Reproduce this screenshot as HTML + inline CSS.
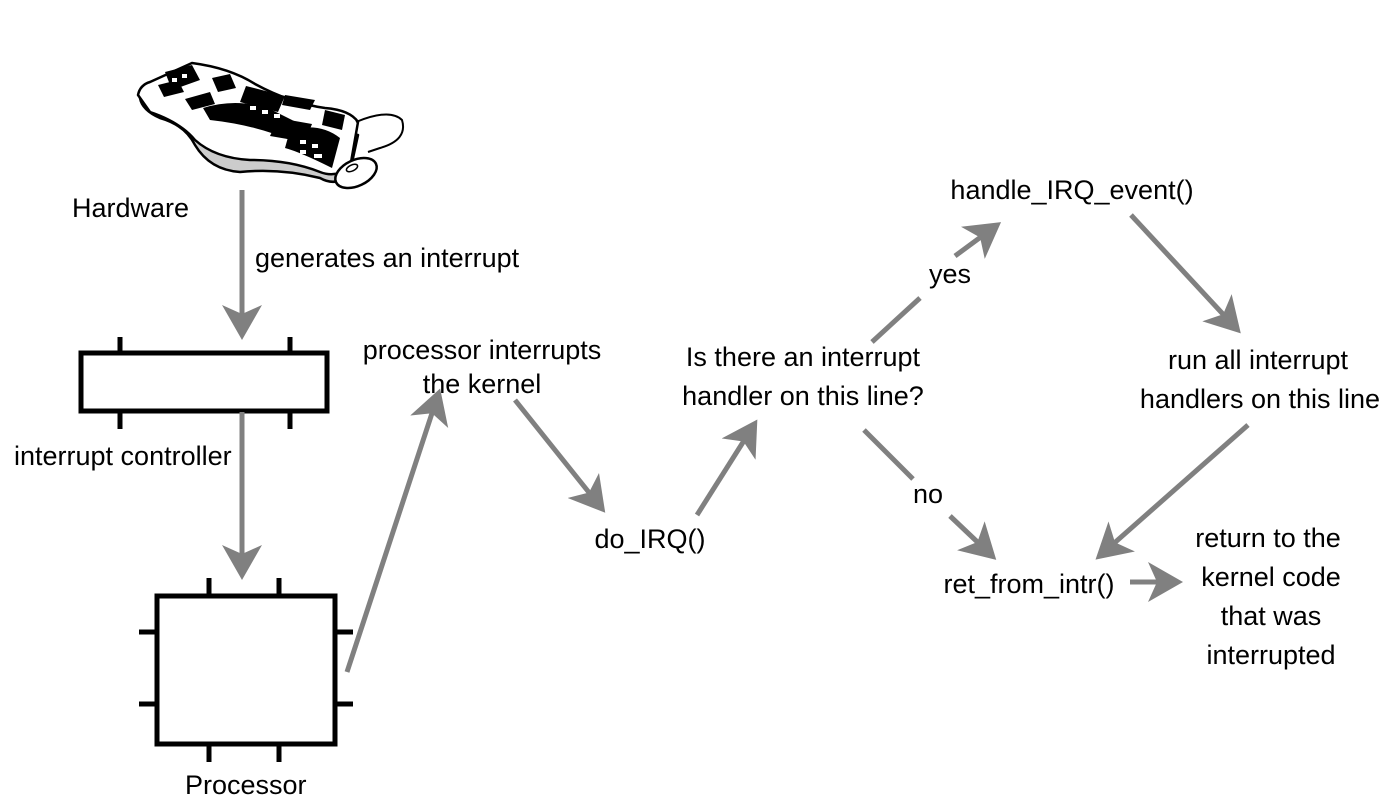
<!DOCTYPE html>
<html><head><style>body{margin:0;background:#fff}svg{display:block}text{font-family:"Liberation Sans",Arial,sans-serif;font-size:27px;fill:#000}</style></head>
<body>
<svg width="1395" height="810" viewBox="0 0 1395 810">
<defs>
<marker id="a" markerWidth="8" markerHeight="8" refX="5" refY="4" orient="auto" markerUnits="strokeWidth">
<path d="M0,0 L7,4 L0,8 L1.8,4 Z" fill="#808080"/>
</marker>
</defs>
<!-- keyboard -->
<g stroke="#000" stroke-width="2.5" fill="#fff" stroke-linejoin="round">
<path d="M140,98 Q142,110 160,118 Q185,125 195,145 Q210,170 240,172 Q280,168 320,178 Q338,188 350,172 L358,135 Q320,128 290,120 Q250,108 210,100 Z" fill="#ccc"/>
<path d="M138,95 Q140,85 150,82 L192,63 Q230,68 255,84 Q290,103 325,108 Q350,110 358,122 L350,168 Q335,178 320,172 Q290,160 250,160 Q215,158 195,140 Q180,122 150,112 Z"/>
<path d="M356,122 Q390,108 402,120 Q408,140 380,148 L368,152" fill="none" stroke-width="2"/>
<ellipse cx="356" cy="173" rx="22" ry="13" transform="rotate(-25 356 173)"/>
<ellipse cx="352" cy="168" rx="6" ry="3" transform="rotate(-25 352 168)" fill="none" stroke-width="1.5"/>
</g>
<g fill="#000">
<path d="M165,72 L192,65 L200,80 L172,90 Z"/>
<path d="M158,85 L178,80 L184,92 L164,97 Z"/>
<path d="M212,78 L230,74 L236,88 L218,92 Z"/>
<path d="M185,99 L210,92 L215,104 L192,110 Z"/>
<path d="M246,86 L285,96 L278,112 L240,102 Z"/>
<path d="M203,108 Q235,98 268,108 L300,124 L290,140 Q255,125 210,120 Z"/>
<path d="M285,95 L315,100 L310,110 L282,105 Z"/>
<path d="M278,118 L312,124 L305,142 L270,136 Z"/>
<path d="M290,130 Q320,122 340,138 L332,168 Q300,152 285,148 Z"/>
<path d="M325,110 L345,115 L342,130 L322,125 Z"/>
</g>
<g fill="#fff">
<rect x="250" y="106" width="6" height="4"/><rect x="262" y="110" width="6" height="4"/><rect x="274" y="114" width="6" height="4"/>
<rect x="300" y="140" width="6" height="4"/><rect x="312" y="144" width="6" height="4"/><rect x="300" y="150" width="6" height="4"/><rect x="314" y="154" width="8" height="4"/>
<rect x="172" y="78" width="5" height="4"/><rect x="182" y="74" width="5" height="4"/>
</g>
<!-- boxes -->
<g stroke="#000" stroke-width="5" fill="none">
<rect x="81" y="353" width="246" height="58"/>
<line x1="120" y1="337" x2="120" y2="353"/><line x1="290" y1="337" x2="290" y2="353"/>
<line x1="120" y1="411" x2="120" y2="429"/><line x1="290" y1="411" x2="290" y2="429"/>
<rect x="157" y="596" width="178" height="148"/>
<line x1="209" y1="578" x2="209" y2="596"/><line x1="279" y1="578" x2="279" y2="596"/>
<line x1="209" y1="744" x2="209" y2="762"/><line x1="279" y1="744" x2="279" y2="762"/>
<line x1="139" y1="632" x2="157" y2="632"/><line x1="139" y1="704" x2="157" y2="704"/>
<line x1="335" y1="632" x2="353" y2="632"/><line x1="335" y1="704" x2="353" y2="704"/>
</g>
<!-- arrows -->
<g stroke="#808080" stroke-width="5" fill="none">
<line x1="242" y1="190" x2="242" y2="330" marker-end="url(#a)"/>
<line x1="242" y1="412" x2="242" y2="570" marker-end="url(#a)"/>
<line x1="347" y1="672" x2="437" y2="398" marker-end="url(#a)"/>
<line x1="515" y1="400" x2="599" y2="505" marker-end="url(#a)"/>
<line x1="697" y1="515" x2="752" y2="428" marker-end="url(#a)"/>
<line x1="872" y1="342" x2="920" y2="298"/>
<line x1="955" y1="256" x2="993" y2="228" marker-end="url(#a)"/>
<line x1="1131" y1="215" x2="1234" y2="326" marker-end="url(#a)"/>
<line x1="1248" y1="425" x2="1103" y2="553" marker-end="url(#a)"/>
<line x1="864" y1="430" x2="913" y2="479"/>
<line x1="950" y1="516" x2="989" y2="553" marker-end="url(#a)"/>
<line x1="1130" y1="582" x2="1173" y2="582" marker-end="url(#a)"/>
</g>
<!-- labels -->
<text x="72" y="217">Hardware</text>
<text x="255" y="267">generates an interrupt</text>
<text x="14" y="465">interrupt controller</text>
<text x="185" y="794">Processor</text>
<text x="482" y="359" text-anchor="middle">processor interrupts</text>
<text x="482" y="393" text-anchor="middle">the kernel</text>
<text x="650" y="548" text-anchor="middle">do_IRQ()</text>
<text x="803" y="366" text-anchor="middle">Is there an interrupt</text>
<text x="803" y="405" text-anchor="middle">handler on this line?</text>
<text x="1072" y="199" text-anchor="middle">handle_IRQ_event()</text>
<text x="950" y="283" text-anchor="middle">yes</text>
<text x="928" y="503" text-anchor="middle">no</text>
<text x="1258" y="369" text-anchor="middle">run all interrupt</text>
<text x="1260" y="408" text-anchor="middle">handlers on this line</text>
<text x="1029" y="593" text-anchor="middle">ret_from_intr()</text>
<text x="1268" y="547" text-anchor="middle">return to  the</text>
<text x="1271" y="586" text-anchor="middle">kernel code</text>
<text x="1271" y="625" text-anchor="middle">that was</text>
<text x="1271" y="664" text-anchor="middle">interrupted</text>
</svg>
</body></html>
